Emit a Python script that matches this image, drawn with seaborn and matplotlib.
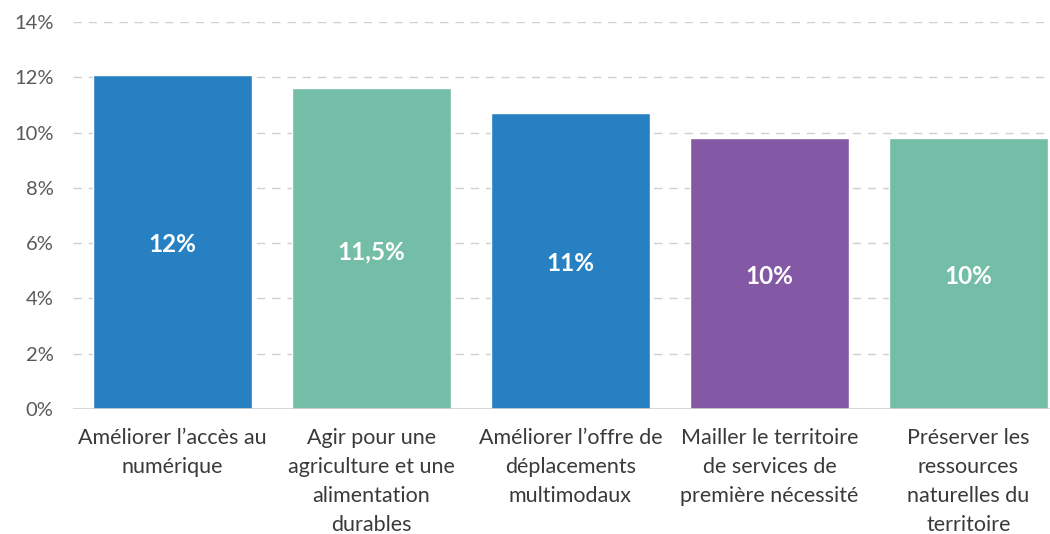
import matplotlib
matplotlib.use("Agg")
import matplotlib.pyplot as plt
import seaborn as sns
import pandas as pd

categories = [
    "Améliorer l’accès au\nnumérique",
    "Agir pour une\nagriculture et une\nalimentation\ndurables",
    "Améliorer l’offre de\ndéplacements\nmultimodaux",
    "Mailler le territoire\nde services de\npremière nécessité",
    "Préserver les\nressources\nnaturelles du\nterritoire",
]
values = [12.1, 11.6, 10.7, 9.8, 9.8]
bar_labels = ["12%", "11,5%", "11%", "10%", "10%"]
colors = ["#2680C2", "#74BDA6", "#2680C2", "#8358A5", "#74BDA6"]
yticks = [0, 2, 4, 6, 8, 10, 12, 14]

sns.set_theme(style="white")
plt.rcParams["font.family"] = ["Lato", "DejaVu Sans"]

df = pd.DataFrame({"cat": categories, "val": values})

fig = plt.figure(figsize=(10.5, 5.34), dpi=100)
ax = fig.add_axes([73 / 1050, 1 - 409 / 534, (1050 - 73) / 1050, (409 - 22) / 534])

sns.barplot(data=df, x="cat", y="val", hue="cat", palette=colors, legend=False,
            width=0.8, ax=ax, saturation=1, zorder=3)

ax.set_ylim(0, 14)
ax.set_xlim(-0.5, 4.41)
ax.set_yticks(yticks)
ax.set_yticklabels([f"{t}%" for t in yticks], color="#595959", fontsize=14.5)
ax.tick_params(axis="y", length=0, pad=14)
ax.tick_params(axis="x", length=0, pad=14)
ax.set_xticks(range(len(categories)))
ax.set_xticklabels(categories, fontsize=15.5, color="#3A3A3A", linespacing=1.56, va="top")
ax.set_xlabel("")
ax.set_ylabel("")

for t in yticks[1:]:
    ax.axhline(t, color="#D0D0D0", lw=1, ls=(0, (6, 5)), zorder=1)
ax.axhline(0, color="#D0D0D0", lw=1.2, zorder=4)

for s in ax.spines.values():
    s.set_visible(False)

for i, (v, lab) in enumerate(zip(values, bar_labels)):
    ax.text(i, v / 2 - 0.1, lab, ha="center", va="center", color="white",
            fontsize=17.5, fontweight="bold", zorder=5)

fig.savefig("out.png", dpi=100)
